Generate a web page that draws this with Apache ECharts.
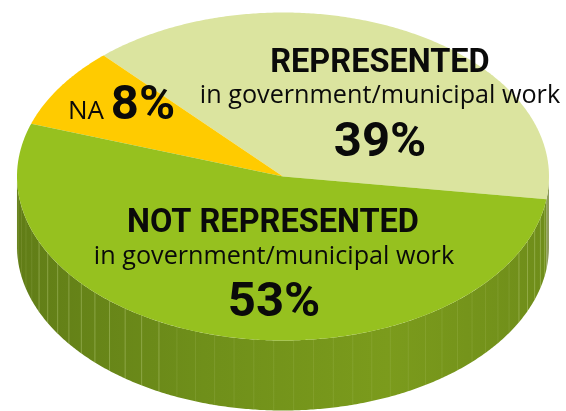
<!DOCTYPE html>
<html>
<head>
<meta charset="utf-8">
<style>html,body{margin:0;padding:0;background:#fff}#c{width:566px;height:411px}</style>
<script src="https://cdn.jsdelivr.net/npm/echarts@6/dist/echarts.min.js"></script>
</head>
<body>
<div id="c"></div>
<script>
var categories = ['REPRESENTED', 'NA', 'NOT REPRESENTED'];
var subtitles = ['in government/municipal work', 'NA', 'in government/municipal work'];
var shares = [39, 8, 53];
var topColors = ['#dbe49f', '#ffcb00', '#96c11f'];
var wallColors = ['#8f9c5c', '#c9a000', '#748f1a'];

var CX = 283, CY = 176.5, RX = 266, RY = 164, DEPTH = 70, START = -8;
var total = shares.reduce(function (a, b) { return a + b; }, 0);
function pt(deg, dy) {
  var r = deg * Math.PI / 180;
  return [CX + RX * Math.cos(r), CY - RY * Math.sin(r) + (dy || 0)];
}
function arc(a, b, dy) {
  var out = [], n = Math.max(2, Math.ceil(Math.abs(b - a) * 2));
  for (var i = 0; i <= n; i++) out.push(pt(a + (b - a) * i / n, dy));
  return out;
}
function range(i) {
  var a = START;
  for (var k = 0; k < i; k++) a += shares[k] / total * 360;
  return [a, a + shares[i] / total * 360];
}
var wallGrad = new echarts.graphic.LinearGradient(0, 0, 1, 0, [
  { offset: 0, color: '#617d17' }, { offset: 0.35, color: '#6f8f1a' },
  { offset: 0.7, color: '#7b9b1c' }, { offset: 1, color: '#6f8d1a' }
]);

function renderWall(params, api) {
  var children = [];
  var r = range(api.value(0));
  var a = r[0], b = r[1];
  [[a, b], [a + 360, b + 360], [a - 360, b - 360]].forEach(function (s) {
    var lo = Math.max(s[0], 180), hi = Math.min(s[1], 360);
    if (hi <= lo) return;
    var upper = arc(lo, hi, 0), lower = arc(hi, lo, DEPTH);
    children.push({
      type: 'polygon', shape: { points: upper.concat(lower) },
      style: { fill: api.value(0) === 2 ? wallGrad : wallColors[api.value(0)] }
    });
    if (api.value(0) === 2) {
      for (var d = lo + 2; d < hi; d += 4.3) {
        var p = pt(d, 0), q = pt(d, DEPTH);
        var odd = Math.round(d * 7) % 3;
        children.push({
          type: 'line', shape: { x1: p[0], y1: p[1], x2: q[0], y2: q[1] },
          style: { stroke: 'rgba(190,210,130,' + (odd === 0 ? 0.42 : 0.16) + ')', lineWidth: 1 }
        });
      }
    }
  });
  return { type: 'group', children: children };
}
function renderTop(params, api) {
  var i = api.value(0), r = range(i);
  var pts = [[CX, CY]].concat(arc(r[0], r[1], 0));
  return { type: 'polygon', shape: { points: pts }, style: { fill: topColors[i] } };
}
function T(x, y, text, size, weight, family) {
  return { type: 'text', x: x, y: y, z: 10, style: {
    text: text, fill: '#0a0a0a', font: (weight || 'normal') + ' ' + size + 'px ' + (family || 'Roboto') + ', sans-serif',
    textAlign: 'center', textVerticalAlign: 'middle' } };
}
var idx = shares.map(function (v, i) { return [i, v]; });
var chart = echarts.init(document.getElementById('c'), null, { renderer: 'canvas' });
chart.setOption({
  animation: false,
  series: [
    { type: 'custom', coordinateSystem: 'none', z: 1, data: idx, renderItem: renderWall, silent: true },
    { type: 'custom', coordinateSystem: 'none', z: 2, data: idx, renderItem: renderTop, silent: true }
  ],
  graphic: { elements: [
    T(380, 64, categories[0], 32.5, 'bold'),
    T(380, 96, subtitles[0], 25.2, 'normal', 'Open Sans'),
    T(380, 144, shares[0] + '%', 49, 'bold'),
    T(86, 112, subtitles[1], 26, 'normal', 'Open Sans'),
    T(143, 107, shares[1] + '%', 49, 'bold'),
    T(273, 224, categories[2], 32.5, 'bold'),
    T(274, 257, subtitles[2], 25.2, 'normal', 'Open Sans'),
    T(274, 304, shares[2] + '%', 49, 'bold')
  ] }
});
</script>
</body>
</html>
